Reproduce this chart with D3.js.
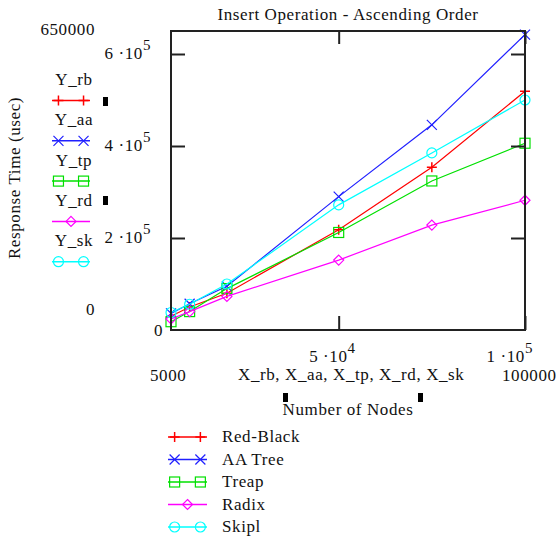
<!DOCTYPE html>
<html>
<head>
<meta charset="utf-8">
<script src="https://cdn.jsdelivr.net/npm/d3@7"></script>
<style>
  body { margin: 0; background: #fff; }
  text { font-family: "Liberation Serif", "Times New Roman", serif; fill: #111; letter-spacing: 0.6px; }
</style>
</head>
<body>
<div id="chart"></div>
<script>
// Data
const nodes = [5000, 10000, 20000, 50000, 75000, 100000];
const redBlack = [30000, 50000, 80000, 218000, 354000, 519000];
const aaTree   = [36000, 57000, 95000, 290000, 446000, 642000];
const treap    = [18000, 40000, 90000, 212000, 324000, 406000];
const radix    = [24000, 40000, 73000, 152000, 228000, 282000];
const skipl    = [38000, 56000, 100000, 272000, 385000, 500000];

const seriesNames = ["Red-Black", "AA Tree", "Treap", "Radix", "Skipl"];
const seriesKeys = ["Y_rb", "Y_aa", "Y_tp", "Y_rd", "Y_sk"];
const yTicks = [200000, 400000, 600000];
const xTicks = [50000, 100000];

const series = [
    {name: seriesNames[0], key: seriesKeys[0], values: redBlack, color: "#ff0000", marker: "plus"},
    {name: seriesNames[1], key: seriesKeys[1], values: aaTree, color: "#2020ff", marker: "cross"},
    {name: seriesNames[2], key: seriesKeys[2], values: treap, color: "#00e000", marker: "square"},
    {name: seriesNames[3], key: seriesKeys[3], values: radix, color: "#ff00ff", marker: "diamond"},
    {name: seriesNames[4], key: seriesKeys[4], values: skipl, color: "#00ffff", marker: "circle"}
];

const width = 556, height = 543;
const plot = {left: 171, right: 525, top: 31, bottom: 330};

const svg = d3.select("#chart").append("svg")
    .attr("width", width)
    .attr("height", height);

const x = d3.scaleLinear().domain([5000, 100000]).range([plot.left, plot.right]);
const y = d3.scaleLinear().domain([0, 650000]).range([plot.bottom, plot.top]);

// Draw one marker shape centred at (cx, cy)
function drawMarker(g, type, cx, cy, color) {
    const s = 5;
    if (type === "plus") {
        g.append("path").attr("d", `M${cx - s},${cy}H${cx + s}M${cx},${cy - s}V${cy + s}`)
            .attr("stroke", color).attr("stroke-width", 1.5).attr("fill", "none");
    } else if (type === "cross") {
        g.append("path").attr("d", `M${cx - s},${cy - s}L${cx + s},${cy + s}M${cx - s},${cy + s}L${cx + s},${cy - s}`)
            .attr("stroke", color).attr("stroke-width", 1.2).attr("fill", "none");
    } else if (type === "square") {
        g.append("rect").attr("x", cx - s).attr("y", cy - s).attr("width", 2 * s).attr("height", 2 * s)
            .attr("stroke", color).attr("stroke-width", 1.2).attr("fill", "none");
    } else if (type === "diamond") {
        g.append("path").attr("d", `M${cx},${cy - s}L${cx + s},${cy}L${cx},${cy + s}L${cx - s},${cy}Z`)
            .attr("stroke", color).attr("stroke-width", 1.2).attr("fill", "none");
    } else {
        g.append("circle").attr("cx", cx).attr("cy", cy).attr("r", s)
            .attr("stroke", color).attr("stroke-width", 1.2).attr("fill", "none");
    }
}

// Series lines and markers
const lines = svg.append("g");
const line = d3.line()
    .x((d, i) => x(nodes[i]))
    .y(d => y(d));

series.forEach(s => {
    lines.append("path")
        .attr("d", line(s.values))
        .attr("fill", "none")
        .attr("stroke", s.color)
        .attr("stroke-width", 1.2);
    s.values.forEach((v, i) => drawMarker(lines, s.marker, x(nodes[i]), y(v), s.color));
});

// Frame and inward ticks on all four sides
function tickAxis(axis, transform) {
    const g = svg.append("g").attr("transform", transform).call(axis);
    g.select(".domain").remove();
    g.selectAll(".tick line").attr("stroke", "#222").attr("stroke-width", 2);
    g.selectAll(".tick text").remove();
}
tickAxis(d3.axisLeft(y).tickValues(yTicks).tickSize(-14), `translate(${plot.left},0)`);
tickAxis(d3.axisRight(y).tickValues(yTicks).tickSize(-14), `translate(${plot.right},0)`);
tickAxis(d3.axisBottom(x).tickValues(xTicks).tickSize(-14), `translate(0,${plot.bottom})`);
tickAxis(d3.axisTop(x).tickValues(xTicks).tickSize(-13), `translate(0,${plot.top})`);

svg.append("rect")
    .attr("x", plot.left).attr("y", plot.top)
    .attr("width", plot.right - plot.left).attr("height", plot.bottom - plot.top)
    .attr("fill", "none").attr("stroke", "#222").attr("stroke-width", 2);

const fs = 17;

// Power-of-ten tick labels, e.g. 6 ·10^5
function powerLabel(px, py, mant, exp, anchor) {
    const t = svg.append("text").attr("x", px).attr("y", py)
        .attr("text-anchor", anchor).style("font-size", fs + "px");
    t.append("tspan").text(mant + " \u00b710");
    t.append("tspan").attr("dy", -9).style("font-size", "15px").text(exp);
}
yTicks.forEach(v => powerLabel(151, y(v) + 5, v / 100000, 5, "end"));
powerLabel(x(50000) + 17, 362, 5, 4, "end");
powerLabel(plot.right + 8, 362, 1, 5, "end");

// Range labels placed like the original
function label(px, py, str, anchor) {
    return svg.append("text").attr("x", px).attr("y", py)
        .attr("text-anchor", anchor || "start")
        .style("font-size", fs + "px").text(str);
}
label(95, 35, "650000", "end");
label(95, 315, "0", "end");
label(163, 336, "0", "end");
label(150, 381, "5000");
label(502, 381, "100000");
label(238, 380, "X_rb, X_aa, X_tp, X_rd, X_sk");
label(348, 415, "Number of Nodes", "middle");
label(348, 20, "Insert Operation - Ascending Order", "middle");

svg.append("text")
    .attr("transform", "translate(20,178) rotate(-90)")
    .attr("text-anchor", "middle")
    .style("font-size", fs + "px")
    .text("Response Time (usec)");

// Little black handles
[[103, 97], [103, 196], [283, 393], [418, 393]].forEach(p => {
    svg.append("rect").attr("x", p[0]).attr("y", p[1])
        .attr("width", 5).attr("height", 9).attr("fill", "#000");
});

// Legend sample drawing: line with marker(s)
function legendSample(x0, x1, cy, s) {
    const g = svg.append("g");
    g.append("line").attr("x1", x0).attr("x2", x1).attr("y1", cy).attr("y2", cy)
        .attr("stroke", s.color).attr("stroke-width", 1.5);
    const len = x1 - x0;
    const spots = s.marker === "diamond" ? [x0 + len / 2] : [x0 + len * 0.17, x0 + len * 0.83];
    spots.forEach(px => drawMarker(g, s.marker, px, cy, s.color));
}

// Left-side key (Y_rb ... Y_sk)
series.forEach((s, i) => {
    const base = 85 + i * 40.3;
    label(74, base, s.key, "middle");
    legendSample(52, 90, base + 15.5, s);
});

// Bottom legend
series.forEach((s, i) => {
    const cy = 437 + i * 22.5;
    legendSample(168, 207, cy, s);
    label(222, cy + 5, s.name);
});
</script>
</body>
</html>
